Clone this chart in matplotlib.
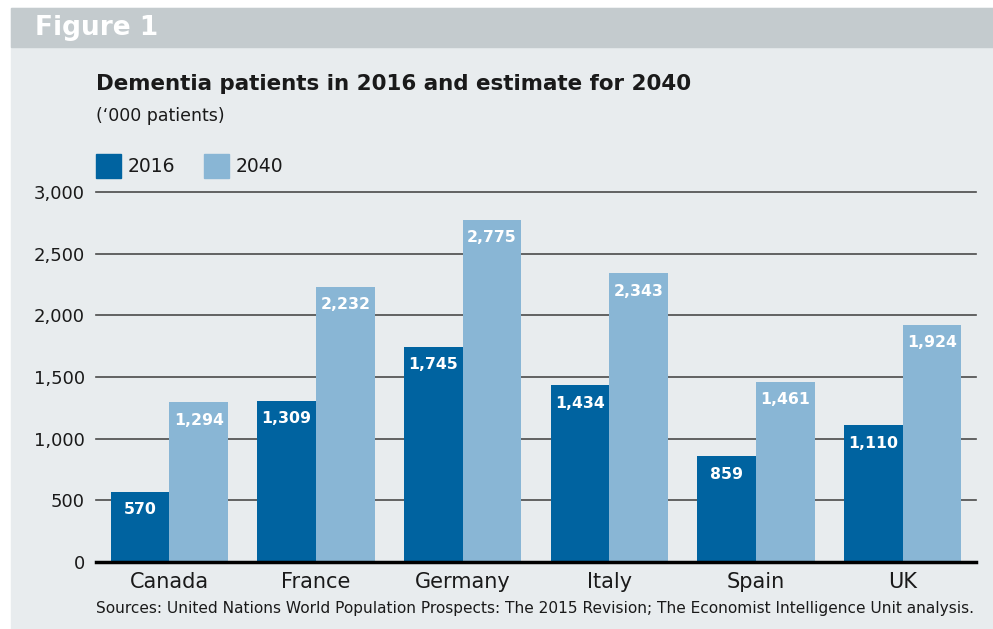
import matplotlib.pyplot as plt
from matplotlib.patches import Rectangle
import numpy as np

countries = ['Canada', 'France', 'Germany', 'Italy', 'Spain', 'UK']
y2016 = [570, 1309, 1745, 1434, 859, 1110]
y2040 = [1294, 2232, 2775, 2343, 1461, 1924]
yticks = [0, 500, 1000, 1500, 2000, 2500, 3000]

dark = '#0063a0'
light = '#89b6d5'
bg = '#e8ecee'
band = '#c4cbce'
txt = '#1a1a1a'

plt.rcParams['font.family'] = ['DejaVu Sans']

fig = plt.figure(figsize=(9.93, 6.29), dpi=100)
fig.patch.set_facecolor('white')
# background panel and header band
fig.patches.append(Rectangle((11/993, 0), 1, 1 - 8/629, transform=fig.transFigure,
                             color=bg, zorder=-10))
fig.patches.append(Rectangle((11/993, 1 - 47/629), 1, 39/629, transform=fig.transFigure,
                             color=band, zorder=-9))
fig.text(35/993, 1 - 28/629, 'Figure 1', color='white', fontsize=19, fontweight='bold',
         va='center', ha='left')
fig.text(96/993, 1 - 84/629, 'Dementia patients in 2016 and estimate for 2040',
         fontsize=15.4, fontweight='bold', color=txt, va='center')
fig.text(96/993, 1 - 116/629, "(\u2018000 patients)", fontsize=12.5, color=txt, va='center')

ax = fig.add_axes([96/993, 1 - 562/629, 880/993, 370/629])
ax.set_facecolor(bg)
x = np.arange(len(countries))
w = 0.4
b1 = ax.bar(x - w/2, y2016, w, color=dark, zorder=3, label='2016')
b2 = ax.bar(x + w/2, y2040, w, color=light, zorder=3, label='2040')

for bars, vals in ((b1, y2016), (b2, y2040)):
    for r, v in zip(bars, vals):
        ax.annotate(f'{v:,}', (r.get_x() + r.get_width()/2, v), xytext=(0, -13),
                    textcoords='offset points', ha='center', va='center',
                    color='white', fontweight='bold', fontsize=11.3, zorder=4)

ax.set_xlim(-0.5, len(countries) - 0.5)
ax.set_ylim(0, 3000)
ax.set_yticks(yticks)
ax.set_yticklabels([f'{t:,}' for t in yticks], fontsize=13, color=txt)
ax.set_xticks(x)
ax.set_xticklabels(countries, fontsize=15, color=txt)
ax.tick_params(length=0, axis='y', pad=8)
ax.tick_params(length=0, axis='x', pad=7)
for t in yticks[1:]:
    ax.axhline(t, color='#4a4a4a', lw=1.2, zorder=1, clip_on=False)
ax.axhline(0, color='black', lw=2.5, zorder=5, clip_on=False)
for s in ax.spines.values():
    s.set_visible(False)

# legend
for i, (c, lab) in enumerate(((dark, '2016'), (light, '2040'))):
    x0 = (96 + i * 108) / 993
    fig.patches.append(Rectangle((x0, 1 - 178/629), 25/993, 24/629,
                                 transform=fig.transFigure, color=c))
    fig.text(x0 + 32/993, 1 - 166/629, lab, fontsize=13.5, color=txt, va='center')

fig.text(96/993, 1 - 609/629,
         'Sources: United Nations World Population Prospects: The 2015 Revision; '
         'The Economist Intelligence Unit analysis.',
         fontsize=11.1, color=txt, va='center')

fig.savefig('out.png', dpi=100, facecolor=fig.get_facecolor())
